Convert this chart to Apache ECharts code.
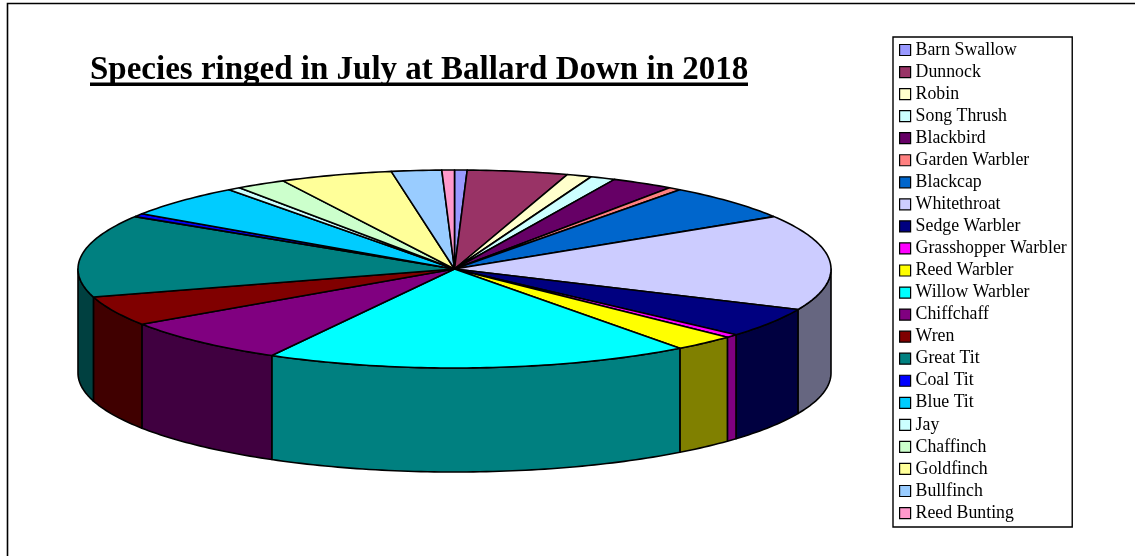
<!DOCTYPE html>
<html><head><meta charset="utf-8">
<style>html,body{margin:0;padding:0;background:#fff}#c{width:1135px;height:556px}</style>
<script src="https://cdn.jsdelivr.net/npm/echarts@6/dist/echarts.min.js"></script>
</head><body><div id="c"></div>
<script>
const species = ['Barn Swallow','Dunnock','Robin','Song Thrush','Blackbird','Garden Warbler','Blackcap','Whitethroat','Sedge Warbler','Grasshopper Warbler','Reed Warbler','Willow Warbler','Chiffchaff','Wren','Great Tit','Coal Tit','Blue Tit','Jay','Chaffinch','Goldfinch','Bullfinch','Reed Bunting'];
const counts = [1,8,2,2,5,1,11,29,9,1,5,34,14,9,25,1,10,1,4,9,4,1];
const colors = ['#9999FF','#993366','#FFFFCC','#CCFFFF','#660066','#FF8080','#0066CC','#CCCCFF','#000080','#FF00FF','#FFFF00','#00FFFF','#800080','#800000','#008080','#0000FF','#00CCFF','#CCFFFF','#CCFFCC','#FFFF99','#99CCFF','#FF99CC'];
const titleText = 'Species ringed in July at Ballard Down in 2018';

const cx = 454.5, cy = 269, rx = 376.5, ry = 99, depth = 104;
const total = counts.reduce((a,b)=>a+b,0);
const pt = (deg, dy) => { const t = deg*Math.PI/180; return [cx + rx*Math.sin(t), cy - ry*Math.cos(t) + (dy||0)]; };
const arc = (a,b,dy) => { const n = Math.max(2,Math.ceil(Math.abs(b-a))), r=[]; for(let i=0;i<=n;i++) r.push(pt(a+(b-a)*i/n,dy)); return r; };
const shade = hex => '#'+[1,3,5].map(i=>Math.round(parseInt(hex.substr(i,2),16)/2).toString(16).padStart(2,'0')).join('');

let running = 0;
const series = species.map((name,i)=>{
  const a0 = running/total*360; running += counts[i]; const a1 = running/total*360;
  return {
    type:'custom', name, coordinateSystem:'none', data:[counts[i]],
    itemStyle:{color:colors[i]}, silent:true, animation:false,
    renderItem(){
      const children=[];
      const wa=Math.max(a0,90), wb=Math.min(a1,270);
      if(wb>wa){
        children.push({type:'polygon',shape:{points:arc(wa,wb,0).concat(arc(wb,wa,depth))},
          style:{fill:shade(colors[i]),stroke:'#000',lineWidth:1.6,lineJoin:'round'}});
      }
      children.push({type:'polygon',shape:{points:[[cx,cy]].concat(arc(a0,a1,0))},
        style:{fill:colors[i],stroke:'#000',lineWidth:1.6,lineJoin:'round'}});
      return {type:'group',children};
    }
  };
});

const chart = echarts.init(document.getElementById('c'),null,{renderer:'canvas'});
chart.setOption({
  animation:false, backgroundColor:'#fff',
  title:{text:titleText,left:90,top:54,padding:0,textStyle:{fontFamily:'Liberation Serif',fontWeight:'bold',fontSize:33,color:'#000'}},
  legend:{orient:'vertical',left:893,top:37,padding:[4,5.5,5,6],icon:'rect',itemWidth:11,itemHeight:11,itemGap:4.05,selectedMode:false,
    borderColor:'#000',borderWidth:1.4,backgroundColor:'#fff',
    itemStyle:{borderColor:'#000',borderWidth:1.2},
    textStyle:{fontFamily:'Liberation Serif',fontSize:17.8,color:'#000',lineHeight:17},
    data:species},
  series,
  graphic:[
    {type:'rect',silent:true,z:-1,shape:{x:7.5,y:3.5,width:1300,height:700},style:{fill:'none',stroke:'#000',lineWidth:1.6}},
    {type:'rect',silent:true,shape:{x:90,y:82.5,width:658,height:3.5},style:{fill:'#000'}}
  ]
});
</script></body></html>
